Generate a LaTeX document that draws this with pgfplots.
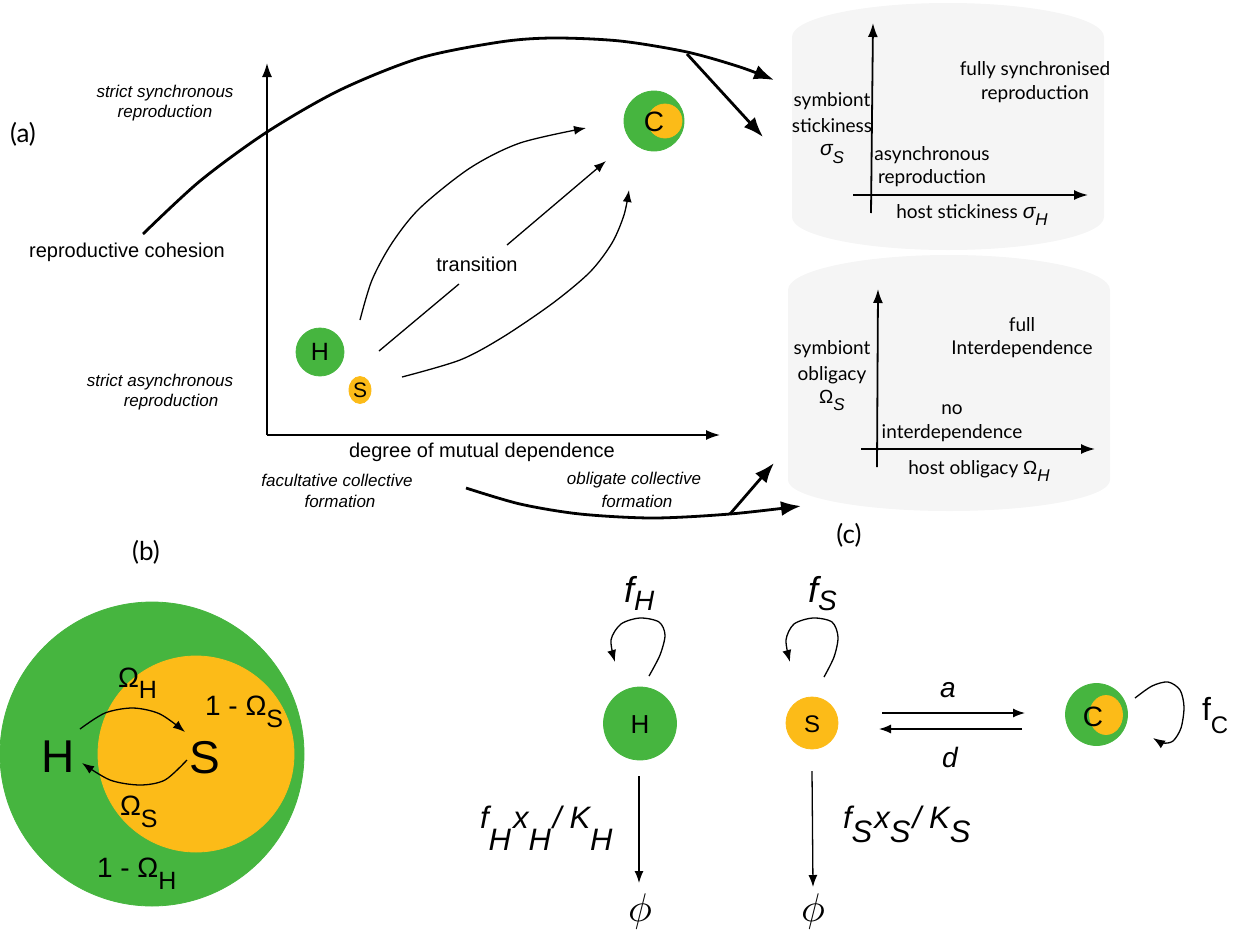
\documentclass[border=0pt]{standalone}
\usepackage{pgfplots}
\pgfplotsset{compat=1.18}
\usetikzlibrary{arrows.meta}
\usepackage{fontspec}
\setmainfont{Liberation Sans}
\newfontfamily\av{Lato}
\definecolor{hgreen}{RGB}{70,181,63}
\definecolor{syellow}{RGB}{252,187,24}
\definecolor{panelgray}{RGB}{245,245,245}
\newcommand\fs[1]{\fontsize{#1}{#1}\selectfont}
\newcommand\dn[2]{\raisebox{-#1}{#2}}

\tikzset{
  thinarr/.style={line width=0.65pt, -{Latex[length=6pt,width=4.5pt]}},
  thickarr/.style={line width=1.4pt, -{Latex[length=10pt,width=7.5pt]}},
  axarr/.style={line width=0.8pt, -{Latex[length=7pt,width=5pt]}},
}

\begin{document}
\begin{tikzpicture}
\begin{axis}[
  hide axis, scale only axis,
  width=621pt, height=466pt,
  xmin=0, xmax=1242, ymin=0, ymax=932,
  y dir=reverse, clip=false, clip marker paths=true,
]

% ---------- grey cylinders behind the two small phase diagrams ----------
\fill[panelgray] (792,37) .. controls (792,18.2) and (861.8,3) .. (948,3)
   .. controls (1034.2,3) and (1104,18.2) .. (1104,37) -- (1104,217)
   .. controls (1104,235.2) and (1034.2,250) .. (948,250)
   .. controls (861.8,250) and (792,235.2) .. (792,217) -- cycle;
\fill[panelgray] (788,290) .. controls (788,270.7) and (860.1,255) .. (949,255)
   .. controls (1037.9,255) and (1110,270.7) .. (1110,290) -- (1110,480)
   .. controls (1110,497.1) and (1037.9,511) .. (949,511)
   .. controls (860.1,511) and (788,497.1) .. (788,480) -- cycle;

% ---------- panel (a) ----------
\addplot[axarr, mark=none] coordinates {(267,435) (267,63)};
\addplot[axarr, mark=none] coordinates {(267,435) (720,435)};

% long arc to the reproduction diagram
\addplot[thickarr, mark=none, smooth] coordinates {
  (143,234) (200,181) (267,132) (340,90) (420,58) (500,42) (553,38)
  (620,41) (687,52) (740,67) (774,80)};
\addplot[thickarr, mark=none] coordinates {(687,54) (763,137)};
% lower arc to the dependence diagram
\addplot[thickarr, mark=none, smooth] coordinates {
  (466,488) (520,504) (580,514) (653,518) (730,514) (801,506)};
\addplot[thickarr, mark=none] coordinates {(730,514) (774,463)};

% transition arrows
\addplot[thinarr, mark=none, smooth] coordinates {
  (360,320) (372,280) (392,243) (420,208) (470,168) (520,143) (586,128)};
\addplot[line width=0.65pt, mark=none] coordinates {(379,351) (459,284)};
\addplot[thinarr, mark=none] coordinates {(507,245) (606,161)};
\addplot[thinarr, mark=none, smooth] coordinates {
  (402,377) (460,360) (503,337) (553,303) (590,272) (612,243) (624,215) (629,190)};

% organisms
\addplot[only marks, mark=*, mark size=12pt, mark options={draw=hgreen, fill=hgreen}] coordinates {(320,352)};
\addplot[only marks, mark=*, mark size=6.75pt, mark options={draw=syellow, fill=syellow, xscale=0.815}] coordinates {(360,390)};
\addplot[only marks, mark=*, mark size=15pt, mark options={draw=hgreen, fill=hgreen}] coordinates {(654,121)};
\addplot[only marks, mark=*, mark size=8.5pt, mark options={draw=syellow, fill=syellow}] coordinates {(665,121)};

\node[font=\fs{12.5}] at (320,352) {H};
\node[font=\fs{10.5}] at (360,390) {S};
\node[font=\fs{14}] at (654,122) {C};

\node[font=\av\fs{13}] at (23,134) {(a)};
\node[font=\fs{8.5}\itshape] at (165,93) {strict synchronous};
\node[font=\fs{8.5}\itshape] at (165,113) {reproduction};
\node[font=\fs{8.5}\itshape] at (160,382) {strict asynchronous};
\node[font=\fs{8.5}\itshape] at (171,402) {reproduction};
\node[font=\fs{10}] at (127,252) {reproductive cohesion};
\node[font=\fs{10}] at (482,452) {degree of mutual dependence};
\node[font=\fs{10}] at (477,264) {transition};
\node[font=\fs{8.5}\itshape] at (337,480) {facultative collective};
\node[font=\fs{8.5}\itshape] at (340,501) {formation};
\node[font=\fs{8.5}\itshape] at (634,480) {obligate collective};
\node[font=\fs{8.5}\itshape] at (637,501) {formation};

% ---------- reproduction diagram (top cylinder) ----------
\addplot[axarr, line width=0.9pt, mark=none] coordinates {(871,213) (873,23)};
\addplot[axarr, line width=0.9pt, mark=none] coordinates {(853,195) (1088,195)};
\node[font=\av\fs{9.5}] at (832,101) {symbiont};
\node[font=\av\fs{9.5}] at (832,126) {stickiness};
\node[font=\fs{10.5}\itshape] at (832,154) {σ\dn{0.7ex}{\fs{8.5}S}};
\node[font=\av\fs{9.5}] at (1035,70) {fully synchronised};
\node[font=\av\fs{9.5}] at (1035,94) {reproduction};
\node[font=\av\fs{9.5}] at (932,155) {asynchronous};
\node[font=\av\fs{9.5}] at (932,178) {reproduction};
\node[font=\av\fs{9.5}] at (972,215) {host stickiness {\normalfont\itshape\fs{10.5}σ\dn{0.7ex}{\fs{8.5}H}}};

% ---------- dependence diagram (bottom cylinder) ----------
\addplot[axarr, line width=0.9pt, mark=none] coordinates {(877,467) (878,289)};
\addplot[axarr, line width=0.9pt, mark=none] coordinates {(861,449) (1095,449)};
\node[font=\av\fs{9.5}] at (832,349) {symbiont};
\node[font=\av\fs{9.5}] at (832,375) {obligacy};
\node[font=\fs{9.5}] at (832,400) {Ω\dn{0.7ex}{\fs{8.5}\itshape S}};
\node[font=\av\fs{9.5}] at (1022,325) {full};
\node[font=\av\fs{9.5}] at (1022,349) {Interdependence};
\node[font=\av\fs{9.5}] at (952,410) {no};
\node[font=\av\fs{9.5}] at (952,433) {interdependence};
\node[font=\av\fs{9.5}] at (979,471) {host obligacy {\normalfont\fs{9.5}Ω\dn{0.7ex}{\fs{8.5}\itshape H}}};
\node[font=\av\fs{13}] at (849,535) {(c)};

% ---------- panel (b) ----------
\node[font=\av\fs{13}] at (146,552) {(b)};
\addplot[only marks, mark=*, mark size=76pt, mark options={draw=hgreen, fill=hgreen}] coordinates {(152,754)};
\addplot[only marks, mark=*, mark size=49pt, mark options={draw=syellow, fill=syellow}] coordinates {(196,754)};
\node[font=\fs{23}] at (58,757) {H};
\node[font=\fs{23}] at (205,758) {S};
\addplot[thinarr, mark=none, smooth] coordinates {(80,729) (105,713) (133,708) (160,714) (185,732)};
\addplot[thinarr, mark=none, smooth] coordinates {(187,760) (165,780) (140,785) (110,780) (82,763)};
\node[font=\fs{14}, anchor=base west] at (111,687) {Ω\dn{5.5pt}{\fs{12.5}H}};
\node[font=\fs{14}, anchor=base west] at (198,715) {1 - Ω\dn{6pt}{\fs{12.5}S}};
\node[font=\fs{14}, anchor=base west] at (113,815) {Ω\dn{6pt}{\fs{12.5}S}};
\node[font=\fs{14}, anchor=base west] at (90,877) {1 - Ω\dn{6pt}{\fs{12.5}H}};

% ---------- panel (c): model scheme ----------
\addplot[only marks, mark=*, mark size=18.25pt, mark options={draw=hgreen, fill=hgreen}] coordinates {(640,723.5)};
\addplot[only marks, mark=*, mark size=13pt, mark options={draw=syellow, fill=syellow}] coordinates {(812,723)};
\addplot[only marks, mark=*, mark size=15.5pt, mark options={draw=hgreen, fill=hgreen}] coordinates {(1096.5,714.5)};
\addplot[only marks, mark=*, mark size=9.75pt, mark options={draw=syellow, fill=syellow, xscale=0.846}] coordinates {(1106,715)};
\node[font=\fs{13}] at (640,725) {H};
\node[font=\fs{12}] at (812,724) {S};
\node[font=\fs{14}] at (1093,717) {C};

% self-renewal loops
\addplot[thinarr, mark=none, smooth] coordinates {(649,676) (660,655) (665,635) (659,622) (640,618) (621,624) (611,640) (615,662)};
\addplot[thinarr, mark=none, smooth] coordinates {(824,677) (834,657) (838,637) (832,622) (813,618) (794,624) (786,640) (790,662)};
\addplot[thinarr, mark=none, smooth] coordinates {(1135,698) (1152,686) (1168,682) (1180,690) (1184,707) (1181,728) (1173,741) (1163,743) (1153,738)};

% death flows
\addplot[thinarr, mark=none] coordinates {(639,776) (639,883)};
\addplot[thinarr, mark=none] coordinates {(812,771) (813,887)};
% association / dissociation
\addplot[thinarr, mark=none] coordinates {(882,713) (1025,713)};
\addplot[thinarr, mark=none] coordinates {(1022,729) (879,729)};

\node[font=\fs{18}\itshape, anchor=base west] at (617,602) {f\dn{4pt}{\fs{14}H}};
\node[font=\fs{18}\itshape, anchor=base west] at (801,602) {f\dn{4pt}{\fs{14}S}};
\node[font=\fs{15.5}\itshape, anchor=base west] at (473,828) {f\dn{11pt}{H}\hspace{1pt}x\dn{11pt}{H}\hspace{1pt}/\hspace{4pt}K\dn{11pt}{H}};
\node[font=\fs{15.5}\itshape, anchor=base west] at (836,828) {f\dn{7pt}{S}\hspace{1pt}x\dn{7pt}{S}\hspace{1pt}/\hspace{4pt}K\dn{7pt}{S}};
\node[font=\fs{14}\itshape] at (948,690) {a};
\node[font=\fs{14}\itshape] at (950,757) {d};
\node[font=\fs{16}, anchor=base west] at (1195,720) {f\dn{6.5pt}{\fs{12}C}};
\node at (640,911) {\scalebox{2.0}{$\phi$}};
\node at (813,911) {\scalebox{2.0}{$\phi$}};

\end{axis}
\pgfresetboundingbox
\useasboundingbox (current axis.south west) rectangle (current axis.north east);
\end{tikzpicture}
\end{document}
